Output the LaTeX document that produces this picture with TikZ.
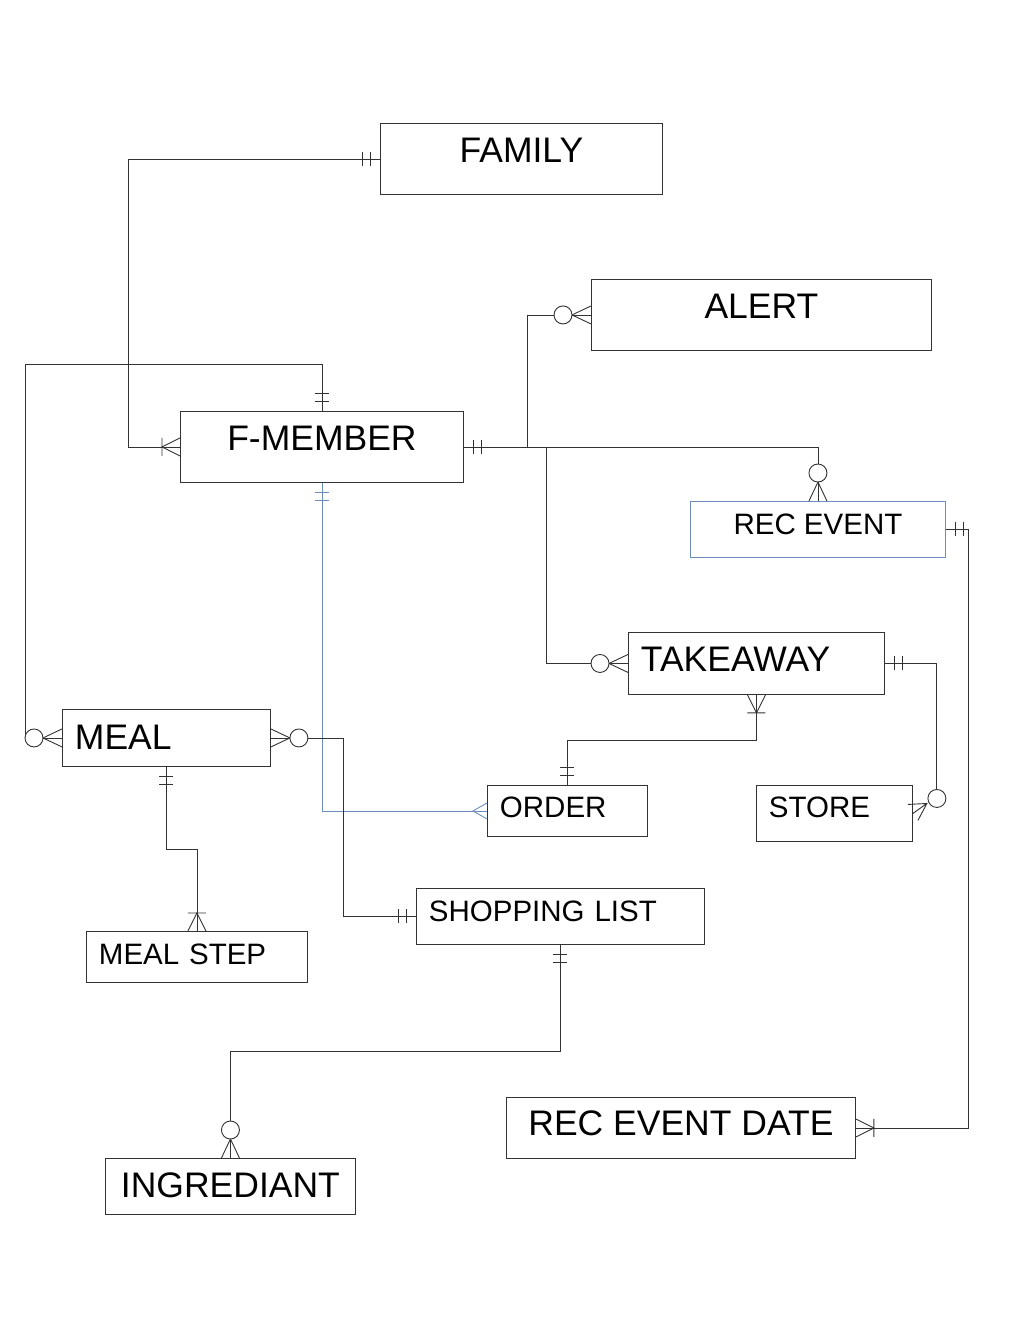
\documentclass[tikz,border=0pt]{standalone}
\usepackage{fontspec}
\setmainfont{Liberation Sans}
\usetikzlibrary{positioning}

\definecolor{erline}{RGB}{51,51,51}
\definecolor{erblue}{RGB}{108,142,191}

\tikzset{
    entity/.style={draw=erline, rectangle, inner ysep=0pt, inner xsep=12.5pt, anchor=north west},
    bigname/.style={font=\fontsize{35.5}{40}\selectfont},
    smallname/.style={font=\fontsize{29.5}{34}\selectfont},
    rel/.style={draw=erline},
    % end markers, drawn along +x away from the box edge
    erone/.pic={\draw (10,-7) -- (10,7) (18,-7) -- (18,7);},
    ercrow/.pic={\draw (0,-8) -- (14,0) -- (0,8);},
    eromany/.pic={\draw (0,-9) -- (18,0) -- (0,9) (18,-9) -- (18,9);},
    erzmany/.pic={\draw (0,-9) -- (19,0) -- (0,9); \filldraw[fill=white] (28,0) circle (9pt);}
}

\begin{document}
\begin{tikzpicture}[x=1pt, y=-1pt, line width=0.9pt]

    \useasboundingbox (0,0) rectangle (1020,1320);

    \node[entity, bigname, minimum width=282pt, text height=39pt, text depth=32pt]            (family)     at (380,123)   {FAMILY};
    \node[entity, bigname, minimum width=340pt, text height=39pt, text depth=32pt]            (alert)      at (591,279)   {ALERT};
    \node[entity, bigname, minimum width=283pt, text height=39pt, text depth=32pt]            (fmember)    at (180,411)   {F-MEMBER};
    \node[entity, smallname, draw=erblue, minimum width=255pt, text height=33.5pt, text depth=22.5pt] (recevent) at (690,501) {REC EVENT};
    \node[entity, bigname, text width=231pt, align=left, text height=39pt, text depth=23pt]  (takeaway)   at (628,632)   {TAKEAWAY};
    \node[entity, bigname, text width=183pt, align=left, text height=40pt, text depth=17pt]  (meal)       at (62,709)    {MEAL};
    \node[entity, smallname, text width=135pt, align=left, text height=32.5pt, text depth=18.5pt] (order)  at (487,785)  {ORDER};
    \node[entity, smallname, text width=131pt, align=left, text height=32.5pt, text depth=23.5pt] (store)  at (756,785)  {STORE};
    \node[entity, smallname, text width=263pt, align=left, text height=33.5pt, text depth=22.5pt] (shopping) at (416,888) {SHOPPING LIST};
    \node[entity, smallname, text width=196pt, align=left, text height=33.5pt, text depth=17.5pt] (mealstep) at (86,931)  {MEAL STEP};
    \node[entity, bigname, minimum width=250pt, text height=39pt, text depth=17pt]            (ingrediant) at (105,1158)  {INGREDIANT};
    \node[entity, bigname, minimum width=349pt, text height=38pt, text depth=23pt]            (recdate)    at (506,1097)  {REC EVENT DATE};

    % relationships
    \path[rel]  (family.west)      -- ++(-252,0)   |- (fmember.west);
    \path[rel]  (fmember.north)    |- ++(-297,-47) |- (meal.west);
    \path[rel]  (fmember.east)     -- ++(64,0)     |- (alert.west);
    \path[rel]  (fmember.east)     -| (recevent.north);
    \path[rel]  (fmember.east)     -- ++(83,0)     |- (takeaway.west);
    \path[rel, draw=erblue]  (fmember.south)  |- (order.west);
    \path[rel]  (meal.east)        -- ++(73,0)     |- (shopping.west);
    \path[rel]  (meal.south)       -- ++(0,83)     -| (mealstep.north);
    \path[rel]  (takeaway.south)   -- ++(0,46)     -| (order.north);
    \path[rel]  (takeaway.east)    -| ([shift={(24,-24)}]store.east);
    \path[rel]  (recevent.east)    -- ++(23,0)     |- (recdate.east);
    \path[rel]  (shopping.south)   -- ++(0,107)    -| (ingrediant.north);

    % cardinalities
    \pic[erline, rotate=180]  at (family.west)      {erone};
    \pic[erline, rotate=180]  at (fmember.west)     {eromany};
    \pic[erline, rotate=90]   at (fmember.north)    {erone};
    \pic[erline, rotate=180]  at (meal.west)        {erzmany};
    \pic[erline]              at (fmember.east)     {erone};
    \pic[erline, rotate=180]  at (alert.west)       {erzmany};
    \pic[erline, rotate=90]   at (recevent.north)   {erzmany};
    \pic[erline, rotate=180]  at (takeaway.west)    {erzmany};
    \pic[erblue, rotate=270]  at (fmember.south)    {erone};
    \pic[erblue, rotate=180]  at (order.west)       {ercrow};
    \pic[erline]              at (meal.east)        {erzmany};
    \pic[erline, rotate=180]  at (shopping.west)    {erone};
    \pic[erline, rotate=270]  at (meal.south)       {erone};
    \pic[erline, rotate=90]   at (mealstep.north)   {eromany};
    \pic[erline, rotate=270]  at (takeaway.south)   {eromany};
    \pic[erline, rotate=90]   at (order.north)      {erone};
    \pic[erline]              at (takeaway.east)    {erone};
    \pic[erline]              at (recevent.east)    {erone};
    \pic[erline]              at (recdate.east)     {eromany};
    \pic[erline, rotate=270]  at (shopping.south)   {erone};
    \pic[erline, rotate=90]   at (ingrediant.north) {erzmany};

    % store end sits off the box corner
    \draw[erline] ([shift={(-5,-9)}]store.east) -- ([shift={(14,-10)}]store.east) -- ([shift={(5,7)}]store.east)
                  (store.east) -- ([shift={(14,-10)}]store.east);
    \filldraw[erline, fill=white] ([shift={(24,-15)}]store.east) circle (9pt);

\end{tikzpicture}
\end{document}
